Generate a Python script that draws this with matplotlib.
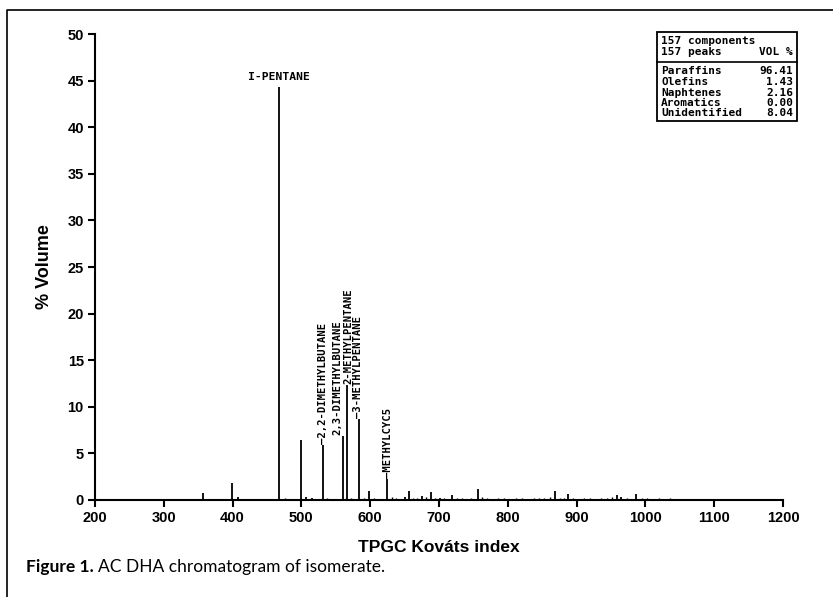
import matplotlib
matplotlib.use("Agg")
import matplotlib.pyplot as plt
from matplotlib.lines import Line2D

# labelled peaks: (Kovats index, % volume, name)
named_idx = [467, 531, 561, 566, 584, 624]
named_vol = [44.3, 5.9, 6.9, 12.3, 8.7, 2.3]
named_lbl = ["I-PENTANE", "\u20142,2-DIMETHYLBUTANE", "2,3-DIMETHYLBUTANE",
             "2-METHYLPENTANE", "\u20143-METHYLPENTANE", "\u2014METHYLCYC5"]

# other visible peaks
peak_idx = [357, 399, 408, 499, 507, 515, 598, 651, 656, 675, 688, 701, 719,
            756, 869, 888, 958, 965, 987]
peak_vol = [0.7, 1.8, 0.3, 6.4, 0.3, 0.2, 1.0, 0.35, 1.0, 0.4, 0.85, 0.2, 0.5,
            1.15, 0.97, 0.64, 0.5, 0.3, 0.64]

# baseline clutter of minor components
minor_idx = [412, 420, 428, 437, 445, 452, 460, 476, 484, 491, 521, 527, 537,
             543, 549, 555, 572, 578, 591, 605, 612, 618, 632, 638, 644, 662,
             668, 681, 694, 708, 713, 726, 733, 740, 747, 762, 770, 778, 786,
             795, 803, 812, 820, 829, 838, 846, 853, 861, 876, 881, 895, 903,
             911, 920, 928, 936, 944, 951, 973, 980, 995, 1003, 1012, 1020,
             1028, 1036, 1045, 1053, 1062, 1070, 1079, 1088, 1097, 1105, 1114,
             1122, 1130]
minor_vol = [0.15, 0.1, 0.12, 0.08, 0.1, 0.15, 0.1, 0.2, 0.12, 0.1, 0.15, 0.1,
             0.2, 0.15, 0.1, 0.12, 0.25, 0.15, 0.2, 0.2, 0.15, 0.1, 0.3, 0.2,
             0.15, 0.25, 0.2, 0.3, 0.25, 0.2, 0.15, 0.2, 0.25, 0.15, 0.2, 0.3,
             0.2, 0.15, 0.25, 0.2, 0.15, 0.2, 0.25, 0.15, 0.2, 0.25, 0.2, 0.3,
             0.2, 0.25, 0.2, 0.15, 0.25, 0.2, 0.15, 0.2, 0.25, 0.3, 0.2, 0.15,
             0.25, 0.2, 0.15, 0.2, 0.15, 0.2, 0.15, 0.12, 0.15, 0.1, 0.15, 0.12,
             0.1, 0.12, 0.1, 0.08, 0.1]

summary_names = ["Paraffins", "Olefins", "Naphtenes", "Aromatics", "Unidentified"]
summary_vals = [96.41, 1.43, 2.16, 0.00, 8.04]

fig = plt.figure(figsize=(8.33, 5.97), dpi=100)
ax = fig.add_axes([0.114, 0.1625, 0.826, 0.7805])

ax.vlines(minor_idx, 0, minor_vol, color="black", lw=1.0)
ax.vlines(peak_idx, 0, peak_vol, color="black", lw=1.3)
ax.vlines(named_idx, 0, named_vol, color="black", lw=1.3)

mono = dict(family="DejaVu Sans Mono", weight="bold", color="black")
# I-PENTANE horizontal, others vertical
ax.text(named_idx[0], named_vol[0] + 0.5, named_lbl[0], ha="center",
        va="bottom", fontsize=8.2, **mono)
offsets = [0, -8, 3, -1, 2]
for x, v, s, dx in zip(named_idx[1:], named_vol[1:], named_lbl[1:], offsets):
    ax.text(x + dx, v + 0.1, s, rotation=90, ha="center",
            va="bottom", fontsize=7.6, **mono)

ax.set_xlim(200, 1200)
ax.set_ylim(0, 50)
ax.set_xticks(range(200, 1201, 100))
ax.set_yticks(range(0, 51, 5))
for side in ["top", "right"]:
    ax.spines[side].set_visible(False)
for side in ["left", "bottom"]:
    ax.spines[side].set_linewidth(1.5)
ax.tick_params(direction="out", length=5, width=1.5, labelsize=10.5, pad=3)
for lab in ax.get_xticklabels() + ax.get_yticklabels():
    lab.set_fontweight("bold")
    lab.set_family("Liberation Sans")
ax.set_xlabel("TPGC Kováts index", fontsize=12.5, fontweight="bold",
              family="Liberation Sans", labelpad=11)
ax.set_ylabel("% Volume", fontsize=13, fontweight="bold",
              family="Liberation Sans", labelpad=10)

# summary box (figure pixels -> fraction)
W, H = 833, 597
def fx(px):
    return px / W
def fy(py):
    return 1 - py / H

bx0, bx1, by0, by1 = 657, 797, 32, 121
fig.patches.append(plt.Rectangle((fx(bx0), fy(by1)), fx(bx1) - fx(bx0),
                                 fy(by0) - fy(by1), transform=fig.transFigure,
                                 fill=False, lw=1.3, ec="black"))
fig.lines.append(Line2D([fx(bx0), fx(bx1)], [fy(62), fy(62)],
                        transform=fig.transFigure, lw=1.2, color="black"))
fig.text(fx(bx0 + 4), fy(41), "157 components", va="center", ha="left",
         fontsize=8, **mono)
fig.text(fx(bx0 + 4), fy(52), "157 peaks", va="center", ha="left", fontsize=8, **mono)
fig.text(fx(bx1 - 4), fy(52), "VOL %", va="center", ha="right", fontsize=8, **mono)
for i, (n, v) in enumerate(zip(summary_names, summary_vals)):
    y = fy(71.5 + i * 10.5)
    fig.text(fx(bx0 + 4), y, n, va="center", ha="left", fontsize=8, **mono)
    fig.text(fx(bx1 - 4), y, f"{v:.2f}", va="center", ha="right", fontsize=8, **mono)

# outer frame (left and top)
fig.lines.append(Line2D([fx(7), fx(7), fx(833)], [fy(597), fy(10), fy(10)],
                        transform=fig.transFigure, lw=1.2, color="black"))

fig.text(fx(26), fy(567), "Figure 1.", fontsize=12.5, fontweight="bold",
         family="Lato", va="center", ha="left")
fig.text(fx(98), fy(567), "AC DHA chromatogram of isomerate.", fontsize=12.5,
         family="Lato", va="center", ha="left")

fig.savefig("out.png", dpi=100)
